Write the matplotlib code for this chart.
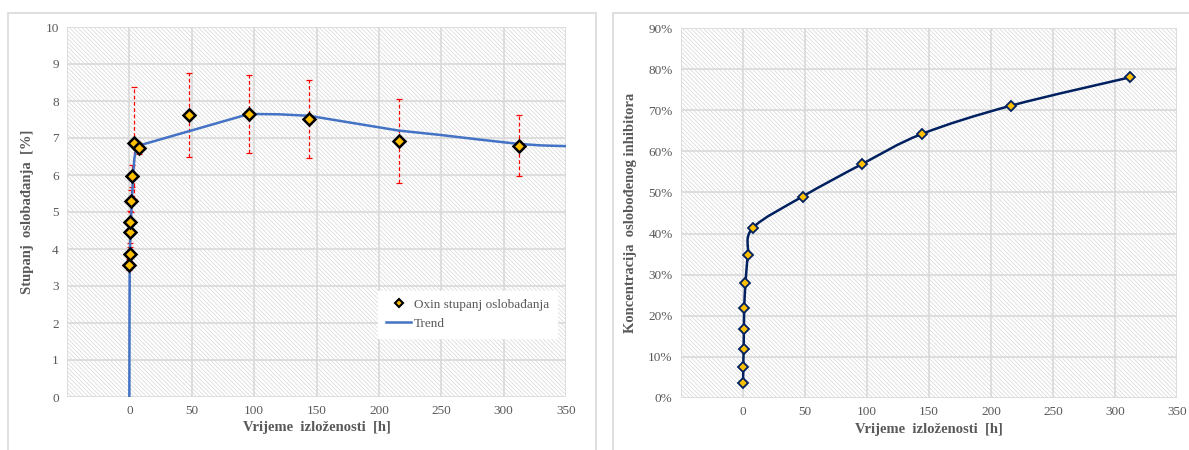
import matplotlib
matplotlib.use("Agg")
import matplotlib.pyplot as plt
import numpy as np
from matplotlib.path import Path
from matplotlib.patches import PathPatch, Rectangle
from matplotlib.lines import Line2D

plt.rcParams['font.family'] = ['Liberation Serif', 'DejaVu Serif']
plt.rcParams['hatch.linewidth'] = 0.5

# data
time_h = [0.083, 0.25, 0.5, 0.75, 1, 2, 4, 8, 48, 96, 144, 216, 312]
oxin_release = [3.58, 3.86, 4.45, 4.73, 5.29, 5.98, 6.86, 6.72, 7.63, 7.65, 7.52, 6.92, 6.79]
oxin_err = [0.15, 0.2, 0.3, 0.3, 0.3, 0.3, 1.51, 0.15, 1.13, 1.05, 1.05, 1.13, 0.82]

trend_x = [0, 0.1, 0.3, 0.8, 1.6, 3, 4, 5.5, 8, 96, 120, 144, 180, 216, 250, 280, 312, 330, 350]
trend_y = [0, 2.0, 3.5, 4.5, 5.0, 6.0, 6.45, 6.7, 6.8, 7.65, 7.64, 7.6, 7.4, 7.2, 7.08, 6.96, 6.84, 6.8, 6.78]

inhib_conc = [3.65, 7.5, 11.9, 16.7, 21.9, 27.9, 34.8, 41.4, 49.0, 56.9, 64.2, 71.1, 78.0]

x_ticks = [-50, 0, 50, 100, 150, 200, 250, 300, 350]

grey = '#595959'
grid_c = '#D9D9D9'


def smooth_path(xs, ys):
    # Catmull-Rom style smoothing like Excel's smoothed line
    p = np.column_stack([xs, ys]).astype(float)
    n = len(p)
    verts = [p[0]]
    codes = [Path.MOVETO]
    for i in range(n - 1):
        p0 = p[i - 1] if i > 0 else p[i]
        p3 = p[i + 2] if i + 2 < n else p[i + 1]
        c1 = p[i] + (p[i + 1] - p0) / 6
        c2 = p[i + 1] - (p3 - p[i]) / 6
        verts += [c1, c2, p[i + 1]]
        codes += [Path.CURVE4] * 3
    return Path(verts, codes)


def style_axes(ax):
    ax.set_axisbelow(True)
    ax.add_patch(Rectangle((0, 0), 1, 1, transform=ax.transAxes, facecolor='white',
                           edgecolor='#D6D6D6', hatch='\\' * 8, lw=0, zorder=0.2))
    ax.grid(True, color=grid_c, lw=1.2)
    for s in ax.spines.values():
        s.set_visible(False)
    ax.tick_params(length=0, labelsize=9.5, labelcolor=grey, pad=6)
    ax.set_xlim(-50, 350)
    ax.set_xticks(x_ticks)
    ax.set_xticklabels(['' if t < 0 else str(t) for t in x_ticks])
    ax.set_xlabel('Vrijeme  izloženosti  [h]', fontsize=10.5, fontweight='bold', color=grey, labelpad=3)


fig = plt.figure(figsize=(11.89, 4.5), dpi=100)

# chart area borders
fig.add_artist(Rectangle((8 / 1189, -0.1), (596 - 8) / 1189, 1.1 - 13 / 450, transform=fig.transFigure,
                         fill=False, edgecolor=grid_c, lw=1.2))
fig.add_artist(Rectangle((613 / 1189, -0.1), 0.6, 1.1 - 13 / 450, transform=fig.transFigure,
                         fill=False, edgecolor=grid_c, lw=1.2))

ax1 = fig.add_axes([67 / 1189, 1 - 397 / 450, (566 - 67) / 1189, 370 / 450])
style_axes(ax1)
ax1.set_ylim(0, 10)
ax1.set_yticks(range(0, 11))
ax1.set_ylabel('Stupanj  oslobađanja  [%]', fontsize=10.5, fontweight='bold', color=grey, labelpad=8)

ax1.plot(trend_x, trend_y, color='#4472C4', lw=1.8, zorder=3)
eb = ax1.errorbar(time_h, oxin_release, yerr=oxin_err, fmt='none', ecolor='red',
                  elinewidth=0.9, capsize=2, capthick=0.9, zorder=2)
eb[2][0].set_linestyle((0, (3, 2)))
ax1.plot(time_h, oxin_release, 'D', ms=6, mfc='#FFC000', mec='black', mew=1.8, zorder=4)

h1 = Line2D([], [], ls='none', marker='D', ms=4.5, mfc='#FFC000', mec='black', mew=1.5)
h2 = Line2D([], [], color='#4472C4', lw=1.8)
leg = ax1.legend([h1, h2], ['Oxin stupanj oslobađanja', 'Trend'], loc='upper right',
                 bbox_to_anchor=(0.995, 0.305), frameon=True, fancybox=False, framealpha=1,
                 edgecolor='white', fontsize=9.5, handlelength=1.9, handletextpad=0.2,
                 labelspacing=0.5, borderpad=0.6)
for t in leg.get_texts():
    t.set_color(grey)

ax2 = fig.add_axes([681 / 1189, 1 - 398 / 450, (1177 - 681) / 1189, 370 / 450])
style_axes(ax2)
ax2.set_ylim(0, 90)
ax2.set_yticks(range(0, 91, 10))
ax2.set_yticklabels([f'{v}%' for v in range(0, 91, 10)])
ax2.set_ylabel('Koncentracija  oslobođenog inhibitora', fontsize=10.5, fontweight='bold',
               color=grey, labelpad=8)
ax2.add_patch(PathPatch(smooth_path(time_h, inhib_conc), fill=False, edgecolor='#002060',
                        lw=1.8, zorder=3))
ax2.plot(time_h, inhib_conc, 'D', ms=5.5, mfc='#FFC000', mec='#002060', mew=1.3, zorder=4)

fig.savefig('out.png', dpi=100)
